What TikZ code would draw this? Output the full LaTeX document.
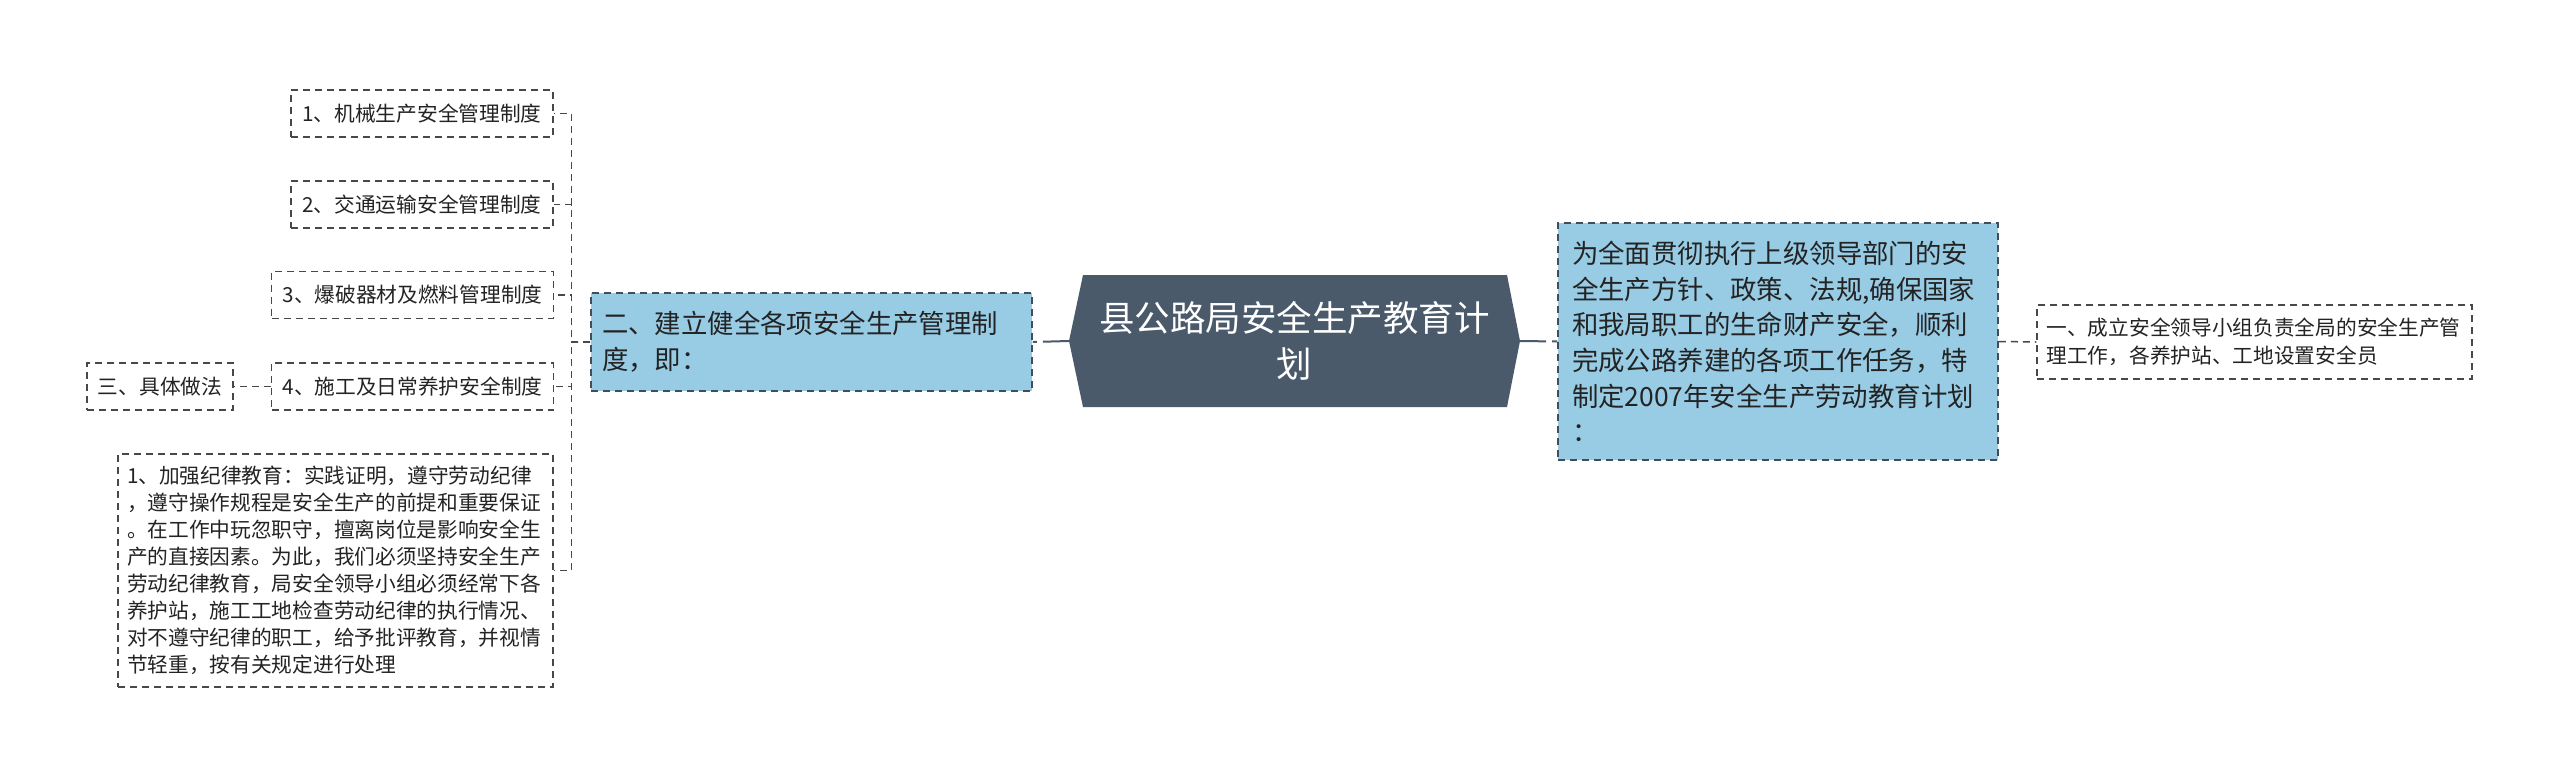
\documentclass[tikz,border=0pt]{standalone}
\usepackage{fontspec}
\setmainfont{Noto Sans CJK SC}
\usetikzlibrary{calc}
\definecolor{hexfill}{RGB}{74,90,106}
\definecolor{bluefill}{RGB}{152,203,228}
\definecolor{lineclr}{RGB}{72,72,72}
\definecolor{bluedraw}{RGB}{62,78,92}
\definecolor{txt}{RGB}{35,35,35}
\begin{document}
\begin{tikzpicture}[x=1pt,y=-1pt,
  smallbox/.style={draw=lineclr, line width=1.5pt, dash pattern=on 7pt off 5pt,
    text=txt, inner xsep=11pt, inner ysep=0pt, minimum height=47pt,
    font=\fontsize{20.7pt}{27pt}\selectfont},
  bluebox/.style={draw=bluedraw, fill=bluefill, line width=1.5pt, dash pattern=on 7pt off 5pt,
    text=txt, inner ysep=0pt, align=left},
  conn/.style={draw=lineclr, line width=1.5pt, dash pattern=on 7pt off 5pt},
  hexline/.style={draw=hexfill, line width=2pt, dash pattern=on 26pt off 6pt}
]
\useasboundingbox (0,0) rectangle (2560,777);
\fill[white] (0,0) rectangle (2560,777);

% left children
\node[smallbox, minimum width=262pt] (c1) at (422,113.5) {1、机械生产安全管理制度};
\node[smallbox, minimum width=262pt] (c2) at (422,204.5) {2、交通运输安全管理制度};
\node[smallbox, minimum width=281pt] (c3) at (412.5,295) {3、爆破器材及燃料管理制度};
\node[smallbox, minimum width=281pt] (c4) at (412.5,386.5) {4、施工及日常养护安全制度};
\node[smallbox, minimum width=146pt] (s3) at (160,386.5) {三、具体做法};
\node[smallbox, text width=417pt, inner xsep=9pt, minimum height=233pt, align=left] (c5) at (335.5,570.5)
 {1、加强纪律教育：实践证明，遵守劳动纪律\\
 ，遵守操作规程是安全生产的前提和重要保证\\
 。在工作中玩忽职守，擅离岗位是影响安全生\\
 产的直接因素。为此，我们必须坚持安全生产\\
 劳动纪律教育，局安全领导小组必须经常下各\\
 养护站，施工工地检查劳动纪律的执行情况、\\
 对不遵守纪律的职工，给予批评教育，并视情\\
 节轻重，按有关规定进行处理};

% level-1 boxes
\node[bluebox, text width=419pt, inner xsep=11pt, minimum height=98pt,
  font=\fontsize{26.4pt}{36pt}\selectfont] (b2) at (811.5,342)
 {二、建立健全各项安全生产管理制\\度，即：};
\node[bluebox, text width=412pt, inner xsep=14pt, minimum height=237pt,
  font=\fontsize{26.4pt}{35.7pt}\selectfont] (r1) at (1778,341.5)
 {为全面贯彻执行上级领导部门的安\\
 全生产方针、政策、法规,确保国家\\
 和我局职工的生命财产安全，顺利\\
 完成公路养建的各项工作任务，特\\
 制定2007年安全生产劳动教育计划\\
 ：};
\node[smallbox, text width=416pt, inner xsep=9.5pt, minimum height=74pt, align=left,
  font=\fontsize{20.7pt}{28pt}\selectfont] (r2) at (2254.5,342)
 {一、成立安全领导小组负责全局的安全生产管\\理工作，各养护站、工地设置安全员};

% central hexagon
\fill[hexfill] (1083,275) -- (1507,275) -- (1520,341) -- (1507,407) -- (1083,407) -- (1069,341) -- cycle;
\node[text=white, minimum width=451pt, minimum height=132pt, inner sep=0pt, align=center,
  font=\fontsize{35.5pt}{46pt}\selectfont] (hex) at (1294.5,341) {县公路局安全生产教育计\\划};

% connectors
\draw[hexline] (hex.west) -- (b2.east);
\draw[hexline] (hex.east) -- (r1.west);
\coordinate (j) at ($(b2.west)+(-19,0)$);
\foreach \c in {c1,c2,c3,c4,c5} \draw[conn] (b2.west) -- (j) |- (\c.east);
\draw[conn] (c4.west) -- (s3.east);
\draw[conn] (r1.east) -- (r2.west);
\end{tikzpicture}
\end{document}
